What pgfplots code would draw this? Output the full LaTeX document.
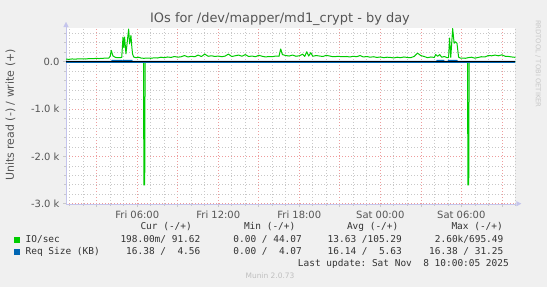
\documentclass[border=0pt]{standalone}
\usepackage{fontspec}
\setmainfont{DejaVu Sans}
\setmonofont{DejaVu Sans Mono}
\usepackage{pgfplots}
\pgfplotsset{compat=1.18}
\usetikzlibrary{arrows.meta}
\definecolor{bg}{HTML}{F0F0F0}
\definecolor{gridgray}{HTML}{C8C8C8}
\definecolor{gridred}{HTML}{EE9C9C}
\definecolor{axiscol}{HTML}{C4C4EC}
\definecolor{txtgray}{HTML}{555555}
\definecolor{legtxt}{HTML}{333333}
\definecolor{iogreen}{HTML}{00CC00}
\definecolor{reqblue}{HTML}{0066B3}
\begin{document}
\begin{tikzpicture}
\useasboundingbox (0,0) rectangle (547bp,-287bp);
\fill[bg] (0,0) rectangle (547bp,-287bp);
\begin{axis}[
  at={(66bp,-203.7bp)}, anchor=south west,
  scale only axis, width=449.3bp, height=175.7bp,
  xmin=0.72, xmax=34.0, ymin=-3000, ymax=712,
  axis background/.style={fill=white},
  axis x line=bottom, axis y line=left,
  axis line style={draw=axiscol},
  x axis line style={-{Triangle[length=5bp,width=5bp]}, shorten >=-6bp},
  y axis line style={-{Triangle[length=5bp,width=5bp]}, shorten >=-6bp},
  xtick={3,6,...,33},
  xticklabels={,Fri 06:00,,Fri 12:00,,Fri 18:00,,Sat 00:00,,Sat 06:00,},
  minor xtick={1,2,4,5,7,8,10,11,13,14,16,17,19,20,22,23,25,26,28,29,31,32,34},
  ytick={-3000,-2000,-1000,0},
  yticklabels={-3.0 k,-2.0 k,-1.0 k,{0.0\hspace{5bp}}},
  minor ytick={-2800,-2600,-2400,-2200,-1800,-1600,-1400,-1200,-800,-600,-400,-200,200,400,600},
  xmajorgrids, ymajorgrids, xminorgrids, yminorgrids,
  major grid style={draw=gridred, line width=0.6bp, dash pattern=on 1bp off 2bp},
  minor grid style={draw=gridgray, line width=0.6bp, dash pattern=on 1bp off 2bp},
  tick align=outside, major tick length=3bp, minor tick length=2bp,
  tick style={draw=gridgray, line width=0.6bp},
  ticklabel style={font=\fontsize{10}{12}\selectfont, text=txtgray},
  xticklabel style={yshift=-1bp},
  /pgf/number format/assume math mode=true,
  clip=true,
]
% IO/sec write (+)
\addplot[iogreen, line width=1bp, line join=round] coordinates {
(0.72,55) (0.92,50) (1.17,58) (1.42,54) (1.67,62) (1.92,60) (2.17,57) (2.42,66) (2.67,63) (2.92,70) (3.17,67) (3.42,72) (3.67,75) (3.9,78) (4.0,120) (4.07,240) (4.2,120) (4.4,90) (4.6,85) (4.85,90) (4.94,520) (5.0,300) (5.06,520) (5.16,165) (5.36,690) (5.43,377) (5.53,555) (5.6,300) (5.65,165) (5.73,100) (5.9,85) (6.1,95) (6.3,75) (6.5,72) (6.75,78) (7.0,72) (7.25,82) (7.5,78) (7.75,95) (8.0,85) (8.25,100) (8.5,90) (8.75,110) (9.0,95) (9.25,105) (9.5,130) (9.75,100) (10.0,115) (10.25,105) (10.5,140) (10.75,110) (11.0,160) (11.25,115) (11.5,125) (11.75,110) (12.0,120) (12.25,105) (12.5,118) (12.75,160) (13.0,110) (13.25,125) (13.5,140) (13.75,115) (14.0,150) (14.25,110) (14.5,120) (14.75,105) (15.0,135) (15.25,115) (15.5,100) (15.75,110) (16.0,105) (16.25,120) (16.5,115) (16.62,270) (16.75,150) (17.0,130) (17.25,120) (17.5,140) (17.75,115) (18.0,125) (18.25,160) (18.4,110) (18.55,210) (18.7,120) (18.85,190) (19.0,115) (19.25,130) (19.5,120) (19.75,110) (20.0,135) (20.25,120) (20.5,105) (20.75,110) (21.0,110) (21.25,105) (21.5,110) (21.75,100) (22.0,115) (22.25,105) (22.5,130) (22.75,100) (23.0,110) (23.25,95) (23.5,105) (23.75,90) (24.0,100) (24.25,85) (24.5,95) (24.75,90) (25.0,80) (25.25,95) (25.5,85) (25.75,100) (26.0,90) (26.25,85) (26.5,110) (26.76,180) (27.0,130) (27.25,110) (27.5,85) (27.75,100) (28.0,90) (28.1,150) (28.25,115) (28.4,150) (28.55,95) (28.75,110) (28.95,85) (29.06,90) (29.13,500) (29.22,90) (29.36,700) (29.47,390) (29.56,420) (29.68,390) (29.8,95) (29.95,75) (30.1,78) (30.3,72) (30.5,85) (30.75,95) (31.0,75) (31.25,90) (31.5,105) (31.75,100) (32.0,130) (32.25,125) (32.5,140) (32.75,125) (33.0,145) (33.25,115) (33.5,110) (33.75,100) (34.0,92)
};
% IO/sec read (-)
\addplot[iogreen, line width=1bp] coordinates {
(0.72,0) (6.46,0) (6.49,-2600) (6.55,-2600) (6.58,0) (30.46,0) (30.49,-2600) (30.55,-2600) (30.58,0) (34.0,0)
};
% Req Size read (-)
\addplot[reqblue, line width=1bp] coordinates {
(0.72,-16) (34.0,-16)
};
% Req Size write (+)
\addplot[reqblue, line width=1bp] coordinates {
(0.72,4.5) (4.1,4.5) (4.13,28) (4.87,28) (4.9,4.5) (4.99,28) (5.6,28) (5.63,4.5) (28.17,4.5) (28.2,28) (28.7,28) (28.73,4.5) (29.02,4.5) (29.05,28) (29.68,28) (29.71,4.5) (34.0,4.5)
};
% zero rule
\addplot[black, line width=0.9bp] coordinates {(0.72,0) (34.0,0)};
\end{axis}
% title
\node[text=txtgray, font=\fontsize{13}{15}\selectfont] at (280bp,-19bp) {IOs for /dev/mapper/md1\_crypt - by day};
% y label
\node[rotate=90, text=txtgray, font=\fontsize{11}{13}\selectfont] at (10.5bp,-115bp) {Units read (-) / write (+)};
% rrdtool
\node[rotate=-90, anchor=west, text=gridgray, font=\fontsize{6.8}{8}\selectfont, inner sep=0pt] at (538bp,-20bp) {RRDTOOL / TOBI OETIKER};
% legend
\begin{scope}[every node/.style={font=\fontsize{9.5}{11}\selectfont\ttfamily, text=legtxt, inner sep=0pt}]
\node[anchor=mid east] at (192bp,-227bp) {Cur (-/+)};
\node[anchor=mid east] at (295.5bp,-227bp) {Min (-/+)};
\node[anchor=mid east] at (398.5bp,-227bp) {Avg (-/+)};
\node[anchor=mid east] at (503bp,-227bp) {Max (-/+)};
\fill[iogreen] (14bp,-237bp) rectangle (20bp,-243bp);
\node[anchor=mid west] at (25.5bp,-240bp) {IO/sec};
\node[anchor=mid east] at (200.5bp,-240bp) {198.00m/ 91.62};
\node[anchor=mid east] at (302bp,-240bp) {0.00 / 44.07};
\node[anchor=mid east] at (402bp,-240bp) {13.63 /105.29};
\node[anchor=mid east] at (503.5bp,-240bp) {2.60k/695.49};
\fill[reqblue] (14bp,-249bp) rectangle (20bp,-255bp);
\node[anchor=mid west] at (25.5bp,-252bp) {Req Size (KB)};
\node[anchor=mid east] at (200.5bp,-252bp) {16.38 /\ \ 4.56};
\node[anchor=mid east] at (302bp,-252bp) {0.00 /\ \ 4.07};
\node[anchor=mid east] at (402bp,-252bp) {16.14 /\ \ 5.63};
\node[anchor=mid east] at (503.5bp,-252bp) {16.38 / 31.25};
\node[anchor=mid east] at (509bp,-263.5bp) {Last update: Sat Nov\ \ 8 10:00:05 2025};
\end{scope}
\node[text=black!25, font=\fontsize{7.5}{9}\selectfont] at (270bp,-276bp) {Munin 2.0.73};
\end{tikzpicture}
\end{document}
